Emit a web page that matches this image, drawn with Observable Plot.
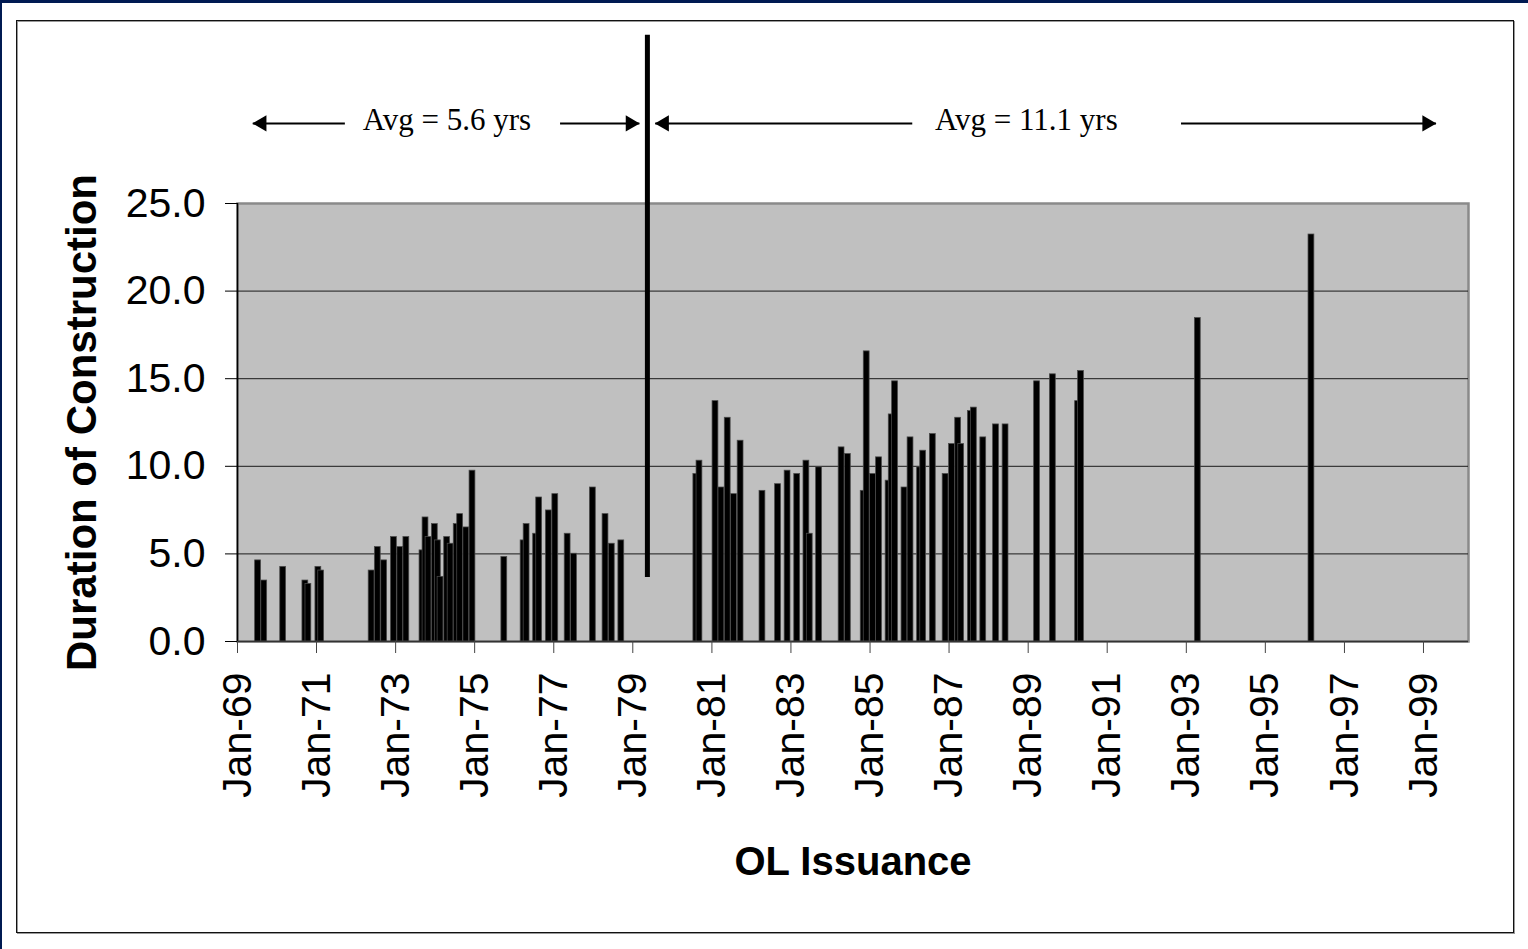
<!DOCTYPE html>
<html>
<head>
<meta charset="utf-8">
<script src="https://cdn.jsdelivr.net/npm/d3@7"></script>
<script src="https://cdn.jsdelivr.net/npm/@observablehq/plot@0.6"></script>
<style>
  html, body { margin: 0; padding: 0; background: #fff; overflow: hidden; }
  #page { position: relative; width: 1528px; height: 949px; background: #fff; }
  #navyTop { position: absolute; left: 0; top: 0; width: 1528px; height: 3px; background: #001a52; }
  #navyLeft { position: absolute; left: 0; top: 0; width: 2px; height: 949px; background: #001a52; }
  #panel { position: absolute; left: 16px; top: 20px; width: 1496px; height: 911px;
           border: 1.5px solid #111; box-shadow: inset 1px 1px 0 #999, 1px 1px 0 #999; }
  #chart { position: absolute; left: 0; top: 0; }
</style>
</head>
<body>
<div id="page">
  <div id="navyTop"></div>
  <div id="navyLeft"></div>
  <div id="panel"></div>
  <div id="chart"></div>
</div>
<script>
// ---- Data ----
const issueDates = [
  "1969-07-10","1969-09-05","1970-02-27","1970-09-20","1970-10-18","1971-01-18","1971-02-13",
  "1972-05-24","1972-07-20","1972-09-17","1972-12-16","1973-02-13","1973-04-10",
  "1973-09-06","1973-10-04","1973-11-01","1973-12-29","1974-01-26","1974-02-20","1974-04-22",
  "1974-05-24","1974-07-19","1974-08-20","1974-10-16","1974-12-12",
  "1975-10-02","1976-03-28","1976-04-25","1976-07-22","1976-08-19","1976-11-16","1977-01-15",
  "1977-05-09","1977-07-07","1977-12-28","1978-04-24","1978-06-21","1978-09-17",
  "1980-08-10","1980-09-08","1981-02-03","1981-03-30","1981-05-27","1981-07-24","1981-09-23",
  "1982-04-13","1982-09-04","1982-12-01","1983-02-28","1983-05-24","1983-06-24","1983-09-18",
  "1984-04-13","1984-06-10","1984-11-03","1984-12-01","1985-01-28","1985-03-25",
  "1985-06-21","1985-07-20","1985-08-20","1985-11-15","1986-01-10","1986-04-08","1986-05-07",
  "1986-08-04","1986-11-30","1987-01-28","1987-03-26","1987-04-23","1987-07-21","1987-08-18",
  "1987-11-13","1988-03-10","1988-06-06","1989-03-24","1989-08-17","1990-04-07","1990-05-04",
  "1993-04-17","1996-03-02"
];
const durations = [
  4.63, 3.48, 4.26, 3.48, 3.29, 4.26, 4.05,
  4.05, 5.39, 4.63, 5.96, 5.39, 5.96,
  5.20, 7.08, 5.96, 6.70, 5.77, 3.69, 5.96,
  5.58, 6.70, 7.27, 6.51, 9.75,
  4.82, 5.77, 6.70, 6.15, 8.22, 7.48, 8.41,
  6.15, 5.01, 8.79, 7.27, 5.58, 5.77,
  9.56, 10.32, 13.72, 8.79, 12.77, 8.41, 11.46,
  8.60, 8.98, 9.75, 9.56, 10.32, 6.15, 9.94,
  11.08, 10.70, 8.60, 16.56, 9.56, 10.51,
  9.18, 12.96, 14.85, 8.79, 11.65, 9.94, 10.89,
  11.84, 9.56, 11.27, 12.77, 11.27, 13.15, 13.35,
  11.65, 12.39, 12.39, 14.85, 15.25, 13.72, 15.44,
  18.46, 23.23
];
const xTickYears = [1969,1971,1973,1975,1977,1979,1981,1983,1985,1987,1989,1991,1993,1995,1997,1999];
const yTicks = [0, 5, 10, 15, 20, 25];
const yGrid = [5, 10, 15, 20];
const xDomain = ["1969-01-01", "2000-02-21"];

// Divider between the two periods
const dividerDate = "1979-05-16";
const dividerSpan = [3.65, 34.6];

// Period annotations (arrow line start -> arrow tip) and labels
const annotationLevel = 29.57;
const arrowsLeft  = [{from: "1971-09-20", tip: "1969-05-22"}, {from: "1986-01-26", tip: "1979-07-27"}];
const arrowsRight = [{from: "1977-02-28", tip: "1979-03-03"}, {from: "1992-11-13", tip: "1999-04-27"}];
const periodLabels = [
  {at: "1974-04-20", text: "Avg = 5.6 yrs"},
  {at: "1988-12-15", text: "Avg = 11.1 yrs"}
];
const xTitle = "OL Issuance";
const yTitle = "Duration of Construction";

// ---- Build ----
const bars = issueDates.map((d, i) => ({date: new Date(d), value: durations[i]}));
const xTicks = xTickYears.map(y => new Date(Date.UTC(y, 0, 1)));
const allArrows = [...arrowsLeft, ...arrowsRight].map(a => ({from: new Date(a.from), tip: new Date(a.tip)}));
const halfDays = 27;

const sans = "'Liberation Sans', Arial, Helvetica, sans-serif";
const serif = "'Liberation Serif', 'Times New Roman', Times, serif";

const chart = Plot.plot({
  width: 1528,
  height: 949,
  marginLeft: 237,
  marginRight: 60,
  marginTop: 203,
  marginBottom: 308,
  style: {fontFamily: sans, fontSize: "41px", color: "black", background: "transparent", overflow: "visible"},
  x: {type: "utc", domain: xDomain.map(d => new Date(d))},
  y: {domain: [0, 25]},
  marks: [
    Plot.frame({fill: "#c0c0c0", stroke: "#8a8a8a", strokeWidth: 2.5}),
    Plot.ruleY(yGrid, {stroke: "#1a1a1a", strokeWidth: 1}),
    Plot.rect(bars, {
      x1: d => d3.utcDay.offset(d.date, -halfDays),
      x2: d => d3.utcDay.offset(d.date, halfDays),
      y1: 0,
      y2: "value",
      fill: "black",
      stroke: "#4a4a4a",
      strokeWidth: 0.75
    }),
    Plot.ruleX([new Date(xDomain[0])], {stroke: "black", strokeWidth: 1.5}),
    Plot.ruleY([0], {stroke: "#333", strokeWidth: 1.5}),
    Plot.axisY({
      ticks: yTicks, tickFormat: d3.format(".1f"), tickSize: 12, tickPadding: 20,
      label: null, stroke: "black", fontSize: 41
    }),
    Plot.axisX({
      ticks: xTicks, tickFormat: d3.utcFormat("%b-%y"), tickRotate: -90,
      tickSize: 12, tickPadding: 19, label: null, stroke: "#444", fontSize: 41
    }),
    // Axis titles
    Plot.text([xTitle], {frameAnchor: "bottom", dy: 221, lineAnchor: "middle", textAnchor: "middle",
      fontWeight: "bold", fontSize: 40, fill: "black"}),
    Plot.text([yTitle], {frameAnchor: "left", dx: -155, rotate: -90, lineAnchor: "middle", textAnchor: "middle",
      fontWeight: "bold", fontSize: 42, fill: "black"}),
    // Divider line
    Plot.ruleX([new Date(dividerDate)], {y1: dividerSpan[0], y2: dividerSpan[1], stroke: "black", strokeWidth: 5}),
    // Arrows
    Plot.link(allArrows, {x1: "from", x2: "tip", y1: annotationLevel, y2: annotationLevel, stroke: "black", strokeWidth: 2}),
    Plot.dot(arrowsLeft, {x: d => new Date(d.tip), y: annotationLevel, symbol: "triangle", r: 6,
      rotate: -90, fill: "black", stroke: "none", dx: 9}),
    Plot.dot(arrowsRight, {x: d => new Date(d.tip), y: annotationLevel, symbol: "triangle", r: 6,
      rotate: 90, fill: "black", stroke: "none", dx: -9}),
    Plot.text(periodLabels, {x: d => new Date(d.at), y: annotationLevel, text: "text", dy: -3,
      lineAnchor: "middle", fontFamily: serif, fontSize: 31, fill: "black"})
  ]
});
document.getElementById("chart").appendChild(chart);
</script>
</body>
</html>
